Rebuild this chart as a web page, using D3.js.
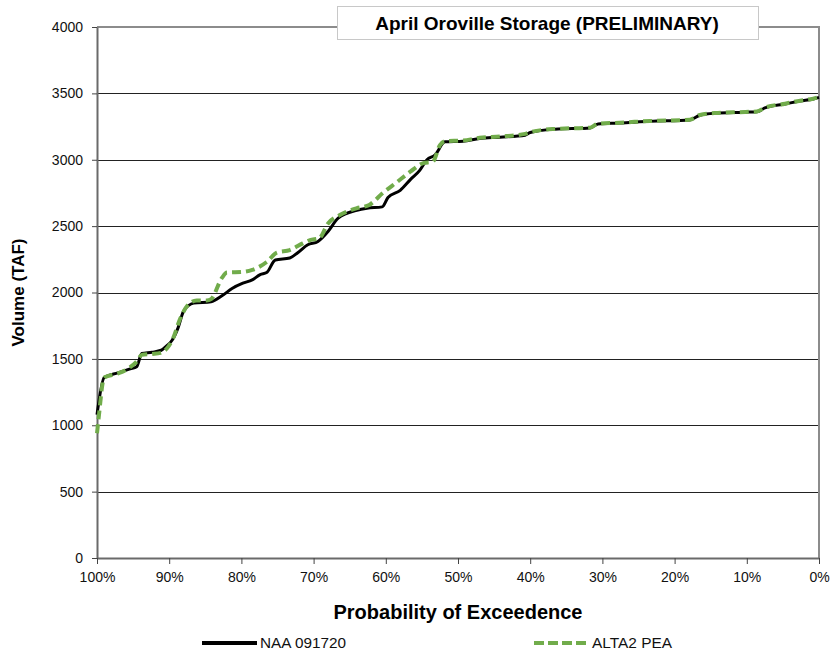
<!DOCTYPE html>
<html>
<head>
<meta charset="utf-8">
<script src="https://cdn.jsdelivr.net/npm/d3@7"></script>
<style>
  body { margin: 0; background: #fff; }
  svg { display: block; }
</style>
</head>
<body>
<div id="chart"></div>
<script>
// exceedance (%) and storage (TAF)
var naaPct = [100, 99.0, 97.1, 95.4, 94.5, 93.8, 92.4, 91.1, 90.3, 89.6, 88.8, 88.0, 86.6, 84.2, 82.7, 81.3,
    79.8, 78.5, 77.4, 76.5, 75.3, 73.3, 72.2, 70.8, 69.4, 68.0, 66.6, 64.0, 62.6, 60.5, 59.7, 58.0, 56.6,
    55.3, 54.3, 53.2, 51.8, 49.3, 47.0, 44.2, 40.7, 40.0, 36.6, 31.7, 30.6, 27.6, 23.4, 17.9, 16.5, 14.4,
    10.2, 8.6, 7.5, 4.7, 2.6, 0.8, 0];
var naaTaf = [1080, 1360, 1395, 1425, 1440, 1540, 1550, 1565, 1600, 1640, 1730, 1860, 1920, 1930, 1975, 2030,
    2070, 2095, 2135, 2150, 2245, 2260, 2300, 2360, 2385, 2460, 2560, 2620, 2635, 2645, 2715, 2770, 2850,
    2920, 3000, 3035, 3135, 3140, 3160, 3170, 3185, 3205, 3230, 3240, 3270, 3277, 3290, 3300, 3335, 3350,
    3358, 3362, 3390, 3420, 3443, 3458, 3470];

var altPct = [100, 99.8, 99.0, 97.1, 95.6, 94.5, 93.8, 92.4, 91.2, 90.3, 89.5, 88.5, 87.5, 86.2, 84.8, 84.2,
    82.7, 82.0, 79.8, 78.5, 76.5, 75.1, 73.3, 71.5, 70.5, 69.2, 68.0, 66.3, 64.0, 62.3, 60.4, 58.5, 56.6,
    54.8, 53.5, 52.5, 51.8, 49.3, 47.0, 44.2, 40.7, 40.0, 36.6, 31.7, 30.6, 27.6, 23.4, 17.9, 16.5, 14.4,
    10.2, 8.6, 7.5, 4.7, 2.6, 0.8, 0];
var altTaf = [940, 1040, 1360, 1390, 1430, 1480, 1530, 1537, 1545, 1580, 1650, 1800, 1900, 1940, 1940, 1950,
    2110, 2150, 2155, 2170, 2230, 2300, 2320, 2370, 2395, 2410, 2520, 2585, 2635, 2660, 2750, 2830, 2910,
    2975, 2985, 3110, 3140, 3145, 3165, 3175, 3195, 3208, 3232, 3242, 3272, 3279, 3292, 3302, 3337, 3352,
    3360, 3364, 3392, 3422, 3445, 3460, 3472];

var xTicks = [100, 90, 80, 70, 60, 50, 40, 30, 20, 10, 0];
var yTicks = [0, 500, 1000, 1500, 2000, 2500, 3000, 3500, 4000];

var seriesNames = ["NAA 091720", "ALTA2 PEA"];
var chartTitle = "April Oroville Storage (PRELIMINARY)";

var width = 832, height = 655;
var plotLeft = 97, plotRight = 819, plotTop = 27, plotBottom = 558;
var green = "#71ac4b";
var font = "'Liberation Sans', Arial, sans-serif";

var svg = d3.select("#chart").append("svg")
    .attr("width", width)
    .attr("height", height);

var x = d3.scaleLinear().domain([100, 0]).range([plotLeft, plotRight]);
var y = d3.scaleLinear().domain([0, 4000]).range([plotBottom, plotTop]);

// gridlines
svg.append("g")
    .selectAll("line")
    .data(yTicks.filter(d => d > 0 && d < 4000))
    .enter().append("line")
    .attr("x1", plotLeft).attr("x2", plotRight)
    .attr("y1", d => Math.round(y(d)) + 0.5).attr("y2", d => Math.round(y(d)) + 0.5)
    .attr("stroke", "#222")
    .attr("stroke-width", 1);

// top + right frame
svg.append("path")
    .attr("d", `M${plotLeft},${plotTop}H${plotRight}V${plotBottom}`)
    .attr("fill", "none")
    .attr("stroke", "#8c8c8c")
    .attr("stroke-width", 2);

var yAxis = svg.append("g")
    .attr("transform", `translate(${plotLeft},0)`)
    .call(d3.axisLeft(y).tickValues(yTicks).tickSize(5).tickSizeOuter(0).tickPadding(9)
        .tickFormat(d3.format("d")));
yAxis.select(".domain").attr("stroke", "#6a6a6a").attr("stroke-width", 2);
yAxis.selectAll(".tick line").attr("stroke", "#444");
yAxis.selectAll("text")
    .attr("font-family", font)
    .attr("font-size", 14)
    .attr("fill", "#111");

var xAxis = svg.append("g")
    .attr("transform", `translate(0,${plotBottom})`)
    .call(d3.axisBottom(x).tickValues(xTicks).tickSize(6).tickSizeOuter(0).tickPadding(8)
        .tickFormat(d => d + "%"));
xAxis.select(".domain").attr("stroke", "#6a6a6a").attr("stroke-width", 2);
xAxis.selectAll(".tick line").attr("stroke", "#444");
xAxis.selectAll("text")
    .attr("font-family", font)
    .attr("font-size", 14)
    .attr("fill", "#111");

var line = d3.line()
    .x(d => x(d[0]))
    .y(d => y(d[1]))
    .curve(d3.curveMonotoneX);

var naa = naaPct.map((p, i) => [p, naaTaf[i]]);
var alt = altPct.map((p, i) => [p, altTaf[i]]);

svg.append("path")
    .datum(naa)
    .attr("d", line)
    .attr("fill", "none")
    .attr("stroke", "#000")
    .attr("stroke-width", 3);

svg.append("path")
    .datum(alt)
    .attr("d", line)
    .attr("fill", "none")
    .attr("stroke", green)
    .attr("stroke-width", 4)
    .attr("stroke-dasharray", "9,5");

// title box
var titleBox = svg.append("g");
titleBox.append("rect")
    .attr("x", 337.5).attr("y", 6.5)
    .attr("width", 421).attr("height", 33)
    .attr("fill", "#fff")
    .attr("stroke", "#c8c8c8");
titleBox.append("text")
    .attr("x", 547).attr("y", 30)
    .attr("text-anchor", "middle")
    .attr("font-family", font)
    .attr("font-weight", "bold")
    .attr("font-size", 19)
    .text(chartTitle);

// axis titles
svg.append("text")
    .attr("x", 458).attr("y", 619)
    .attr("text-anchor", "middle")
    .attr("font-family", font)
    .attr("font-weight", "bold")
    .attr("font-size", 20)
    .text("Probability of Exceedence");

svg.append("text")
    .attr("transform", `translate(24,${(plotTop + plotBottom) / 2}) rotate(-90)`)
    .attr("text-anchor", "middle")
    .attr("font-family", font)
    .attr("font-weight", "bold")
    .attr("font-size", 17)
    .text("Volume (TAF)");

// legend
var legend = svg.append("g");
var legendX = [202, 534];
legend.selectAll("line")
    .data(seriesNames)
    .enter().append("line")
    .attr("x1", (d, i) => legendX[i]).attr("x2", (d, i) => legendX[i] + 55)
    .attr("y1", 643).attr("y2", 643)
    .attr("stroke", (d, i) => i == 0 ? "#000" : green)
    .attr("stroke-width", 4)
    .attr("stroke-dasharray", (d, i) => i == 0 ? null : "10,4");
legend.selectAll("text")
    .data(seriesNames)
    .enter().append("text")
    .attr("x", (d, i) => legendX[i] + 58)
    .attr("y", 648)
    .attr("font-family", font)
    .attr("font-size", 14)
    .attr("fill", "#111")
    .attr("textLength", (d, i) => i == 0 ? 86 : 80)
    .attr("lengthAdjust", "spacingAndGlyphs")
    .text(d => d);
</script>
</body>
</html>
